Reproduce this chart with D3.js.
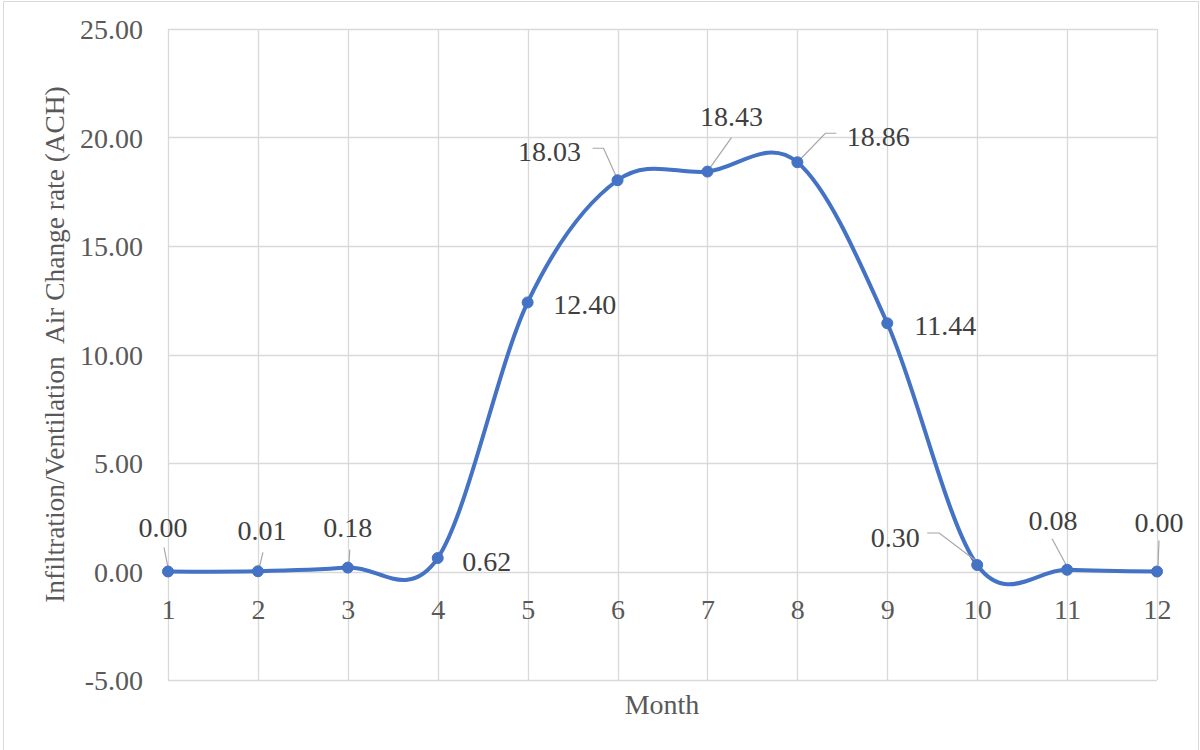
<!DOCTYPE html>
<html>
<head>
<meta charset="utf-8">
<script src="https://cdn.jsdelivr.net/npm/d3@7"></script>
<style>
  html, body { margin: 0; padding: 0; background: #fff; }
  #chart { display: block; }
</style>
</head>
<body>
<svg id="chart" width="1200" height="750" font-family="Liberation Serif"></svg>
<script>
// ---- data ----
const months = [1, 2, 3, 4, 5, 6, 7, 8, 9, 10, 11, 12];
const achValues = [0.00, 0.01, 0.18, 0.62, 12.40, 18.03, 18.43, 18.86, 11.44, 0.30, 0.08, 0.00];
const yTicks = [-5, 0, 5, 10, 15, 20, 25];
const xTitle = "Month";
const yTitle = "Infiltration/Ventilation\u00A0 Air Change rate (ACH)";

// ---- label layout (pixel offsets from point) ----
const labelLayout = [
  { dx: -5, dy: -44, leader: [[-4, -24], [0, -4]] },
  { dx: 4, dy: -41, leader: [[5, -19], [1, -2]] },
  { dx: 0, dy: -40, leader: [[2, -18], [1, -2]] },
  { dx: 49, dy: 3, leader: null },
  { dx: 57, dy: 2, leader: null },
  { dx: -68, dy: -29, leader: [[-25, -32], [-14, -32], [-1, -3]] },
  { dx: 24, dy: -55, leader: [[24, -34], [2, -3]] },
  { dx: 81, dy: -26, leader: [[39, -29], [28, -29], [1, -1]] },
  { dx: 58, dy: 2, leader: null },
  { dx: -82, dy: -28, leader: [[-50, -32], [-38, -32], [-1, -4]] },
  { dx: -14, dy: -49, leader: [[-15, -31], [0, -3]] },
  { dx: 2, dy: -49, leader: [[2, -31], [1, -6]] }
];

const FONT = "Liberation Serif";
const FS = 28;
const fmt = v => d3.format(".2f")(v).replace("\u2212", "-");

const svg = d3.select("#chart");
const plot = { left: 168, right: 1157, top: 29, bottom: 680 };

// outer border
svg.append("rect")
  .attr("x", 3.5).attr("y", 1.5)
  .attr("width", 1195).attr("height", 760)
  .attr("fill", "#fff").attr("stroke", "#d9d9d9").attr("stroke-width", 1);

const x = d3.scaleLinear().domain([1, 12]).range([plot.left, plot.right]);
const y = d3.scaleLinear().domain([-5, 25]).range([plot.bottom, plot.top]);

// horizontal gridlines
svg.append("g").selectAll("line").data(yTicks).join("line")
  .attr("x1", plot.left).attr("x2", plot.right)
  .attr("y1", d => Math.round(y(d)) + 0.5).attr("y2", d => Math.round(y(d)) + 0.5)
  .attr("stroke", "#d9d9d9").attr("stroke-width", 1.3);

// vertical gridlines
svg.append("g").selectAll("line").data(months).join("line")
  .attr("x1", d => Math.round(x(d)) + 0.5).attr("x2", d => Math.round(x(d)) + 0.5)
  .attr("y1", plot.top).attr("y2", plot.bottom)
  .attr("stroke", "#d9d9d9").attr("stroke-width", 1.3);

// y tick labels
const yAxis = d3.axisLeft(y).tickValues(yTicks).tickFormat(fmt).tickSize(0).tickPadding(0);
const gy = svg.append("g").attr("transform", `translate(143,0)`).call(yAxis);
gy.attr("font-family", FONT).attr("font-size", FS);
gy.select(".domain").remove();
gy.selectAll("text")
  .style("font-family", FONT).attr("font-size", FS).attr("fill", "#595959").attr("dy", "0.34em");

// x tick labels (positioned below zero line, as in Excel)
const xAxis = d3.axisBottom(x).tickValues(months).tickFormat(d3.format("d")).tickSize(0).tickPadding(0);
const gx = svg.append("g").attr("transform", `translate(0,${y(0)})`).call(xAxis);
gx.attr("font-family", FONT).attr("font-size", FS);
gx.select(".domain").remove();
gx.selectAll("text")
  .style("font-family", FONT).attr("font-size", FS).attr("fill", "#595959").attr("y", 47).attr("dy", 0);

// axis titles
svg.append("text")
  .attr("x", (plot.left + plot.right) / 2 - 0.5).attr("y", 714)
  .attr("text-anchor", "middle").attr("font-size", FS).attr("fill", "#595959")
  .style("font-family", FONT)
  .text(xTitle);

svg.append("text")
  .attr("transform", `translate(64,${(plot.top + plot.bottom) / 2 - 10}) rotate(-90)`)
  .attr("text-anchor", "middle").attr("font-size", 27.4).attr("fill", "#595959")
  .style("font-family", FONT)
  .text(yTitle);

// line
const pts = months.map((m, i) => [x(m), y(achValues[i])]);
const line = d3.line().curve(d3.curveCardinal.tension(0));
svg.append("path")
  .attr("d", line(pts))
  .attr("fill", "none").attr("stroke", "#4472C4").attr("stroke-width", 4)
  .attr("stroke-linejoin", "round").attr("stroke-linecap", "round");

// leader lines
const leaders = svg.append("g");
pts.forEach((p, i) => {
  const L = labelLayout[i].leader;
  if (!L) return;
  leaders.append("polyline")
    .attr("points", L.map(o => `${p[0] + o[0]},${p[1] + o[1]}`).join(" "))
    .attr("fill", "none").attr("stroke", "#a6a6a6").attr("stroke-width", 1.2);
});

// markers
svg.append("g").selectAll("circle").data(pts).join("circle")
  .attr("cx", d => d[0]).attr("cy", d => d[1]).attr("r", 5.5)
  .attr("fill", "#4472C4").attr("stroke", "#4472C4").attr("stroke-width", 1);

// data labels
svg.append("g").selectAll("text").data(achValues).join("text")
  .attr("x", (d, i) => pts[i][0] + labelLayout[i].dx)
  .attr("y", (d, i) => pts[i][1] + labelLayout[i].dy)
  .attr("dy", "0.34em")
  .attr("text-anchor", "middle")
  .style("font-family", FONT)
  .attr("font-size", FS).attr("fill", "#404040")
  .text(d => fmt(d));
</script>
</body>
</html>
